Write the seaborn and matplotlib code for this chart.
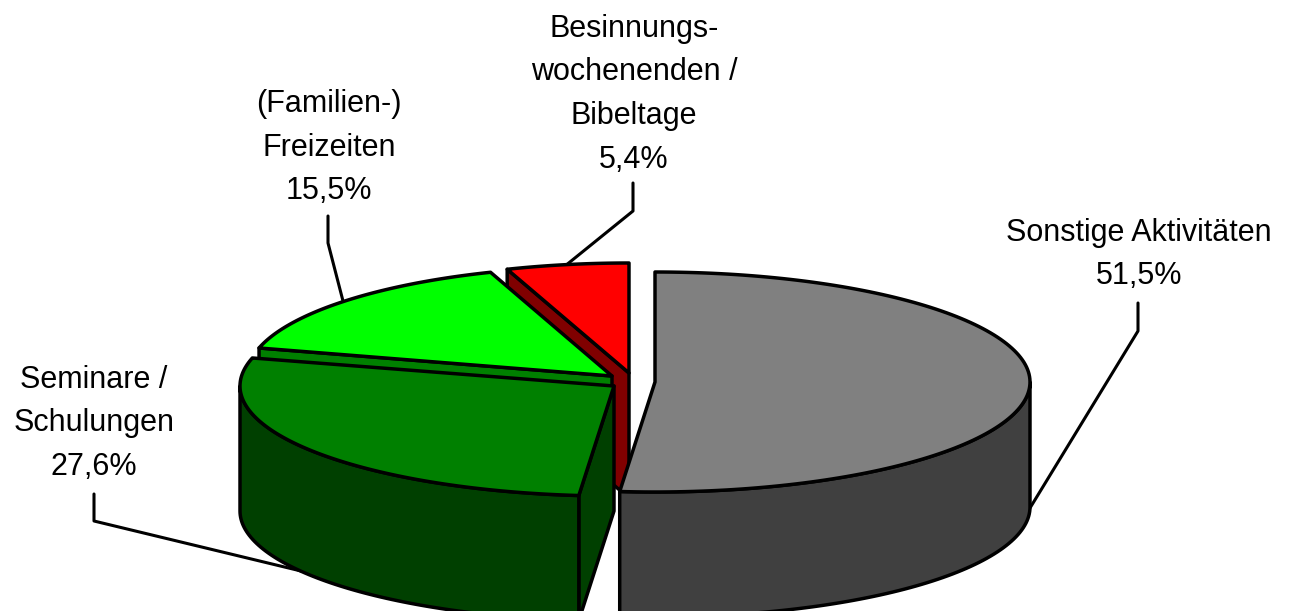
import numpy as np
import seaborn as sns
import matplotlib.pyplot as plt

# Anteile in Prozent, im Uhrzeigersinn ab 12 Uhr
categories = ['Sonstige Aktivitäten', 'Seminare / Schulungen', '(Familien-) Freizeiten', 'Besinnungswochenenden / Bibeltage']
shares = [51.5, 27.6, 15.5, 5.4]
value_labels = ['51,5%', '27,6%', '15,5%', '5,4%']
label_lines = [
    ['Sonstige Aktivitäten'],
    ['Seminare /', 'Schulungen'],
    ['(Familien-)', 'Freizeiten'],
    ['Besinnungs-', 'wochenenden /', 'Bibeltage'],
]

top_colors = ['#808080', '#008000', '#00ff00', '#ff0000']
side_colors = ['#404040', '#004000', '#008000', '#800000']

# Layout in Pixeln
centers = [(655, 382), (614, 386), (612, 376), (629, 373)]
radii_x = [375, 374, 365, 366]
radius_y = 110
depth = 125
label_pos = [(1139, 233), (94, 380), (329, 104), (634, 29)]
line_step = 43.5
leaders = [
    [(1138, 303), (1138, 331), (1030, 508)],
    [(94, 494), (94, 521), (330, 578)],
    [(328, 216), (328, 243), (343, 301)],
    [(633, 183), (633, 211), (565, 266)],
]

sns.set_theme(style='white')
plt.rcParams['font.family'] = ['Liberation Sans', 'DejaVu Sans']

fig, ax = plt.subplots(figsize=(12.9, 6.11), dpi=100)
ax.set_position([0, 0, 1, 1])
ax.set_xlim(0, 1290)
ax.set_ylim(611, 0)
ax.axis('off')

edges = np.concatenate([[0], np.cumsum(shares)]) / sum(shares) * 2 * np.pi


def point(i, t, drop=0):
    cx, cy = centers[i]
    return cx + radii_x[i] * np.sin(t), cy - radius_y * np.cos(t) + drop


def poly(xs, ys, color, z):
    ax.fill(xs, ys, facecolor=color, edgecolor='black', linewidth=2.5,
            joinstyle='round', zorder=z)


def cut_face(i, t, z):
    cx, cy = centers[i]
    x, y = point(i, t)
    poly([cx, x, x, cx], [cy, y, y + depth, cy + depth], side_colors[i], z)


def wall(i, t0, t1, z):
    t = np.linspace(t0, t1, 80)
    x, y = point(i, t)
    poly(np.r_[x, x[::-1]], np.r_[y, y[::-1] + depth], side_colors[i], z)


def top(i, z):
    t = np.linspace(edges[i], edges[i + 1], 150)
    x, y = point(i, t)
    cx, cy = centers[i]
    poly(np.r_[cx, x], np.r_[cy, y], top_colors[i], z)


for line in leaders:
    ax.plot(*zip(*line), color='black', linewidth=2.2, zorder=1)

# von hinten nach vorne zeichnen
cut_face(3, edges[3], 2)
top(3, 3)
cut_face(2, edges[2], 4)
top(2, 5)
cut_face(1, edges[1], 6)
wall(1, edges[1], 1.5 * np.pi, 6)
top(1, 7)
wall(0, 0.5 * np.pi, edges[1], 8)
top(0, 9)

for i, (x, y) in enumerate(label_pos):
    for k, line in enumerate(label_lines[i] + [value_labels[i]]):
        ax.text(x, y + k * line_step, line, ha='center', va='center',
                fontsize=22, color='black', zorder=10)

fig.savefig('out.png', dpi=100)
